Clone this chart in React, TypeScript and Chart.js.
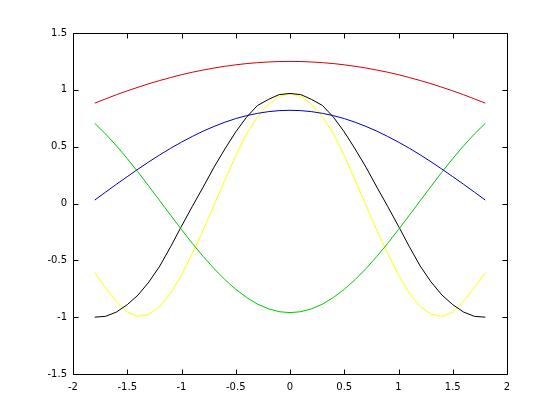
import React, { useEffect, useRef } from "react";
import { Chart, registerables } from "chart.js";

Chart.register(...registerables);

const xs = [
  -1.8, -1.7, -1.6, -1.5, -1.4, -1.3, -1.2, -1.1, -1.0, -0.9, -0.8, -0.7, -0.6, -0.5, -0.4, -0.3, -0.2, -0.1,
  0,
  0.1, 0.2, 0.3, 0.4, 0.5, 0.6, 0.7, 0.8, 0.9, 1.0, 1.1, 1.2, 1.3, 1.4, 1.5, 1.6, 1.7, 1.8,
];

const redSeries = [
  0.883, 0.92, 0.957, 0.991, 1.023, 1.054, 1.082, 1.108, 1.133, 1.155, 1.174, 1.192, 1.207, 1.22, 1.231, 1.239, 1.245, 1.249,
  1.25,
  1.249, 1.245, 1.239, 1.231, 1.22, 1.207, 1.192, 1.174, 1.155, 1.133, 1.108, 1.082, 1.054, 1.023, 0.991, 0.957, 0.92, 0.883,
];

const blueSeries = [
  0.03, 0.1, 0.169, 0.236, 0.303, 0.367, 0.428, 0.486, 0.54, 0.59, 0.637, 0.678, 0.715, 0.747, 0.773, 0.793, 0.808, 0.817,
  0.82,
  0.817, 0.808, 0.793, 0.773, 0.747, 0.715, 0.678, 0.637, 0.59, 0.54, 0.486, 0.428, 0.367, 0.303, 0.236, 0.169, 0.1, 0.03,
];

const greenSeries = [
  0.705, 0.612, 0.508, 0.395, 0.276, 0.151, 0.024, -0.103, -0.229, -0.351, -0.466, -0.573, -0.67, -0.755, -0.827, -0.885, -0.926, -0.952,
  -0.96,
  -0.952, -0.926, -0.885, -0.827, -0.755, -0.67, -0.573, -0.466, -0.351, -0.229, -0.103, 0.024, 0.151, 0.276, 0.395, 0.508, 0.612, 0.705,
];

const blackSeries = [
  -1.0, -0.993, -0.955, -0.89, -0.805, -0.69, -0.55, -0.38, -0.2, -0.025, 0.145, 0.32, 0.48, 0.63, 0.76, 0.862, 0.915, 0.958,
  0.968,
  0.958, 0.915, 0.862, 0.76, 0.63, 0.48, 0.32, 0.145, -0.025, -0.2, -0.38, -0.55, -0.69, -0.805, -0.89, -0.955, -0.993, -1.0,
];

const yellowSeries = [
  -0.608, -0.74, -0.86, -0.955, -0.993, -0.975, -0.905, -0.79, -0.63, -0.44, -0.235, -0.015, 0.205, 0.42, 0.615, 0.762, 0.872, 0.942,
  0.965,
  0.942, 0.872, 0.762, 0.615, 0.42, 0.205, -0.015, -0.235, -0.44, -0.63, -0.79, -0.905, -0.975, -0.993, -0.955, -0.86, -0.74, -0.608,
];

const xTickValues = [-2, -1.5, -1, -0.5, 0, 0.5, 1, 1.5, 2];
const yTickValues = [-1.5, -1, -0.5, 0, 0.5, 1, 1.5];

const seriesList = [
  { name: "red", values: redSeries, color: "#d40000" },
  { name: "blue", values: blueSeries, color: "#0000b4" },
  { name: "green", values: greenSeries, color: "#00c800" },
  { name: "black", values: blackSeries, color: "#000000" },
  { name: "yellow", values: yellowSeries, color: "#ffff00" },
];

const framePlugin = {
  id: "matlabFrame",
  afterDraw(chart: any) {
    const { ctx, chartArea: a, scales } = chart;
    const L = Math.round(a.left) + 0.5;
    const R = Math.round(a.right) + 0.5;
    const T = Math.round(a.top) + 0.5;
    const B = Math.round(a.bottom) + 0.5;
    const len = 5;
    ctx.save();
    ctx.strokeStyle = "#000";
    ctx.lineWidth = 1;
    ctx.beginPath();
    ctx.rect(L, T, R - L, B - T);
    for (const v of xTickValues) {
      const px = Math.round(scales.x.getPixelForValue(v)) + 0.5;
      ctx.moveTo(px, B);
      ctx.lineTo(px, B - len);
      ctx.moveTo(px, T);
      ctx.lineTo(px, T + len);
    }
    for (const v of yTickValues) {
      const py = Math.round(scales.y.getPixelForValue(v)) + 0.5;
      ctx.moveTo(L, py);
      ctx.lineTo(L + len, py);
      ctx.moveTo(R, py);
      ctx.lineTo(R - len, py);
    }
    ctx.stroke();
    ctx.restore();
  },
};

export default function App() {
  const ref = useRef<HTMLCanvasElement | null>(null);

  useEffect(() => {
    if (!ref.current) return;
    const font = { family: "'DejaVu Sans', sans-serif", size: 10 };
    const chart = new Chart(ref.current, {
      type: "line",
      data: {
        datasets: seriesList.map((s) => ({
          label: s.name,
          data: xs.map((x, i) => ({ x, y: s.values[i] })),
          borderColor: s.color,
          backgroundColor: s.color,
          borderWidth: 1,
          pointRadius: 0,
          tension: 0,
          fill: false,
        })),
      },
      options: {
        responsive: false,
        animation: false,
        devicePixelRatio: 1,
        layout: { padding: { left: 0, top: 33, right: 53, bottom: 0 } },
        plugins: {
          legend: { display: false },
          tooltip: { enabled: false },
          title: { display: false },
        },
        scales: {
          x: {
            type: "linear",
            min: -2,
            max: 2,
            afterFit: (s: any) => {
              s.height = 46;
            },
            afterBuildTicks: (s: any) => {
              s.ticks = xTickValues.map((v) => ({ value: v }));
            },
            grid: { display: false, drawTicks: false },
            border: { display: false },
            ticks: {
              color: "#000",
              font,
              padding: 7,
              maxRotation: 0,
              autoSkip: false,
              callback: (v: any) => String(v),
            },
          },
          y: {
            type: "linear",
            min: -1.5,
            max: 1.5,
            afterFit: (s: any) => {
              s.width = 73;
            },
            afterBuildTicks: (s: any) => {
              s.ticks = yTickValues.map((v) => ({ value: v }));
            },
            grid: { display: false, drawTicks: false },
            border: { display: false },
            ticks: {
              color: "#000",
              font,
              padding: 6,
              autoSkip: false,
              callback: (v: any) => String(v),
            },
          },
        },
      },
      plugins: [framePlugin],
    });
    return () => chart.destroy();
  }, []);

  return (
    <div style={{ position: "fixed", left: 0, top: 0, width: 560, height: 420, background: "#fff" }}>
      <canvas ref={ref} width={560} height={420} style={{ display: "block", width: 560, height: 420 }} />
    </div>
  );
}
